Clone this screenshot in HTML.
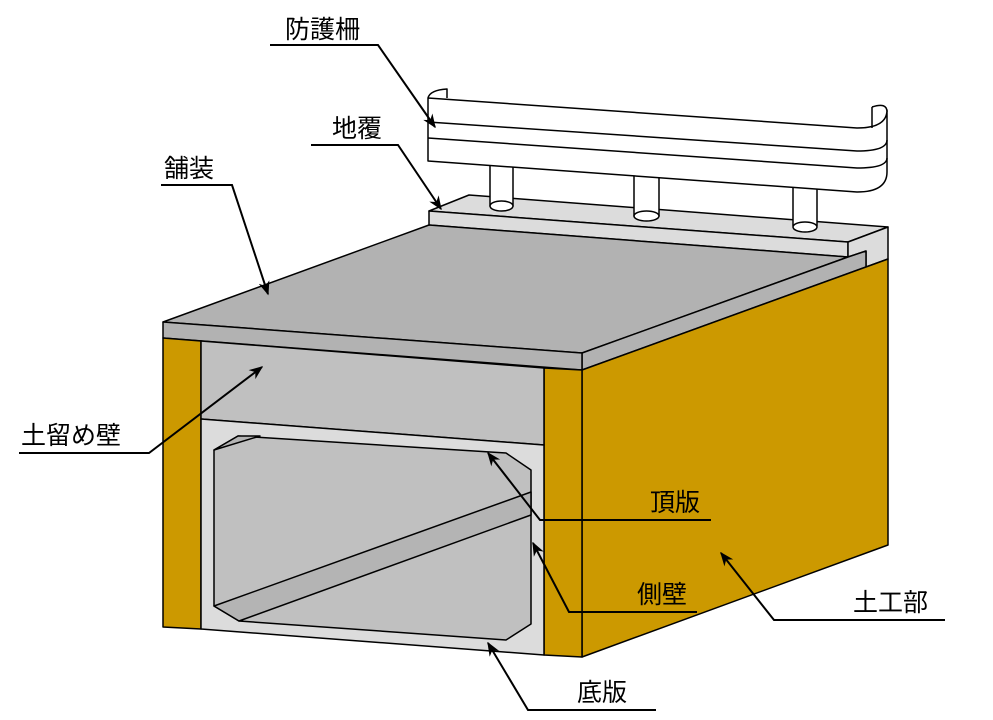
<!DOCTYPE html>
<html><head><meta charset="utf-8"><style>
html,body{margin:0;padding:0;background:#fff}
svg{display:block}
text{font-family:"Liberation Sans","Noto Sans CJK JP",sans-serif;font-size:25px;fill:#000}
</style></head><body>
<svg width="993" height="720" viewBox="0 0 993 720" xmlns="http://www.w3.org/2000/svg">
<defs><marker id="a" viewBox="0 0 10 10" refX="9" refY="5" markerWidth="7" markerHeight="7" orient="auto"><path d="M0,1 L10,5 L0,9 L3,5 z" fill="#000"/></marker></defs>
<g stroke="#000" stroke-width="1.5" stroke-linejoin="round">
<!-- curb -->
<polygon points="429,211 469,195 888,227 848,242" fill="#dcdcdc"/>
<polygon points="429,211 848,242 848,257 429,225" fill="#dcdcdc"/>
<polygon points="848,242 888,227 888,259 866,267 866,251 848,257" fill="#dcdcdc"/>
<!-- guardrail posts -->
<rect x="490" y="160" width="23" height="46" fill="#fff"/>
<ellipse cx="501.5" cy="206" rx="11.5" ry="5" fill="#fff"/>
<rect x="634" y="170" width="25" height="46" fill="#fff"/>
<ellipse cx="646.5" cy="216" rx="12.5" ry="5" fill="#fff"/>
<rect x="793" y="180" width="24" height="46" fill="#fff"/>
<ellipse cx="805" cy="227" rx="12" ry="5" fill="#fff"/>
<!-- rail -->
<path d="M428,98 Q430,90 447,89 L447,98" fill="#fff"/>
<path d="M428,98 L857,128 Q887,128 887,110 L887,172 Q887,192 857,192 L428,161 Z" fill="#fff"/>
<path d="M872,107 L872,128" fill="none"/>
<path d="M872,107 Q887,102 887,112" fill="#fff"/>
<path d="M428,122 L857,151 Q887,151 887,140" fill="none"/>
<path d="M428,138 L857,168 Q887,168 887,158" fill="none"/>
<!-- paving -->
<polygon points="163,322 429,225 848,257 582,353" fill="#b2b2b2"/>
<polygon points="582,353 848,257 866,251 866,267 582,370" fill="#b2b2b2"/>
<polygon points="163,322 582,353 582,370 163,338" fill="#b2b2b2"/>
<!-- yellow side -->
<polygon points="582,370 888,259 888,545 582,657" fill="#cc9900"/>
<!-- front -->
<polygon points="163,338 201,341 201,629 163,627" fill="#cc9900"/>
<polygon points="544,368 582,370 582,657 544,655" fill="#cc9900"/>
<polygon points="201,341 544,368 544,445 201,419" fill="#c0c0c0"/>
<polygon points="201,419 544,445 544,655 201,629" fill="#dcdcdc"/>
<polygon points="214,450 238,436 506,453 531,470 531,624 506,640 239,621 214,606" fill="#c0c0c0"/>
<polygon points="214,606 531,492 531,515 239,621" fill="#b4b4b4"/>
<polygon points="214,450 238,436 260,436" fill="#b4b4b4"/>
</g>
<g stroke="#000" stroke-width="2" fill="none">
<path d="M270,45 L378,45 L435,127" marker-end="url(#a)"/>
<path d="M311,145 L398,145 L441,209" marker-end="url(#a)"/>
<path d="M161,185 L232,185 L268,294" marker-end="url(#a)"/>
<path d="M19,453 L149,453 L262,367" marker-end="url(#a)"/>
<path d="M711,520 L540,520 L488,453" marker-end="url(#a)"/>
<path d="M697,612 L569,612 L533,543" marker-end="url(#a)"/>
<path d="M945,620 L774,620 L721,553" marker-end="url(#a)"/>
<path d="M656,710 L528,710 L488,643" marker-end="url(#a)"/>
</g>
<text x="285" y="38">防護柵</text>
<text x="332" y="137">地覆</text>
<text x="164" y="177">舗装</text>
<text x="21" y="444">土留め壁</text>
<text x="650" y="511">頂版</text>
<text x="637" y="603">側壁</text>
<text x="853" y="611">土工部</text>
<text x="577" y="701">底版</text>
</svg>
</body></html>
